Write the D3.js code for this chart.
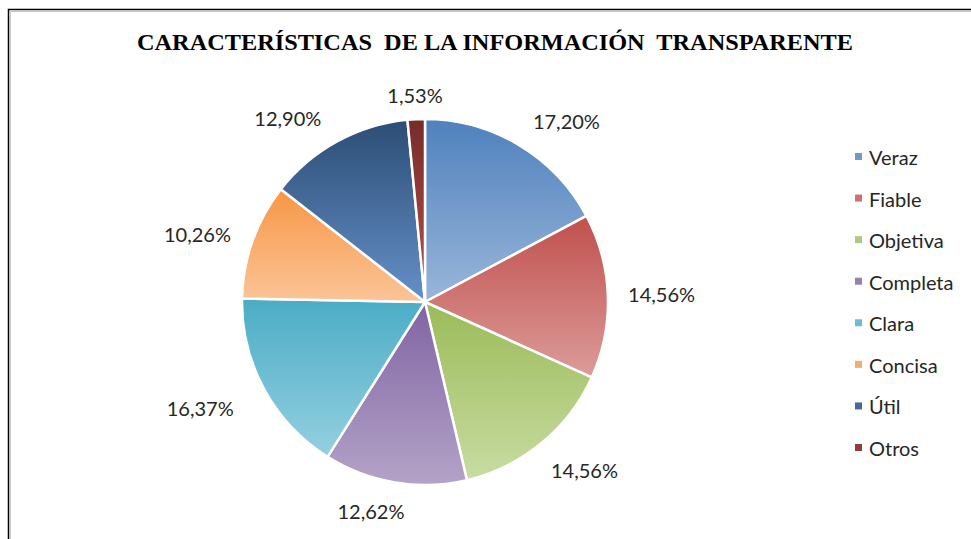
<!DOCTYPE html>
<html>
<head>
<meta charset="utf-8">
<script src="https://cdn.jsdelivr.net/npm/d3@7"></script>
<style>
  html, body { margin: 0; padding: 0; background: #fff; }
  svg { display: block; }
</style>
</head>
<body>
<div id="chart"></div>
<script>
// ---- Data ----
const categories = ["Veraz", "Fiable", "Objetiva", "Completa", "Clara", "Concisa", "Útil", "Otros"];
const values = [17.20, 14.56, 14.56, 12.62, 16.37, 10.26, 12.90, 1.53];
const valueLabels = ["17,20%", "14,56%", "14,56%", "12,62%", "16,37%", "10,26%", "12,90%", "1,53%"];
const title = "CARACTERÍSTICAS  DE LA INFORMACIÓN  TRANSPARENTE";

// ---- Styles ----
const colorsTop = ["#4f81bd", "#c0504d", "#9bbb59", "#8064a2", "#4bacc6", "#f79646", "#2c4d75", "#772c2a"];
const colorsBottom = ["#9ab6da", "#dc9c9a", "#c8dca2", "#b4a3c8", "#94d0e0", "#fbc497", "#6590c8", "#b5514e"];
// label layout tweaks (angle in degrees, extra radial distance in px)
const labelNudgeDeg = [7, 0, -4, 5, 3, -3, -8, 0];
const labelNudgeR = [0, 0, 0, -3, 12, 0, 0, -5];

const W = 971, H = 539;
const cx = 425, cy = 302, R = 183;

const svg = d3.select("#chart").append("svg").attr("width", W).attr("height", H);

// border
svg.append("path").attr("d", `M8.5,${H} L8.5,9.5 L${W},9.5`).attr("fill", "none").attr("stroke", "#000").attr("stroke-width", 1.5);
svg.append("path").attr("d", `M10.5,${H} L10.5,11.5 L${W},11.5`).attr("fill", "none").attr("stroke", "#c8c8c8").attr("stroke-width", 1);

// title
svg.append("text")
  .attr("x", 495).attr("y", 50)
  .attr("text-anchor", "middle")
  .attr("font-family", "'Liberation Serif', 'Times New Roman', serif")
  .attr("font-weight", "bold")
  .attr("font-size", 24)
  .attr("textLength", 716)
  .attr("lengthAdjust", "spacingAndGlyphs")
  .attr("fill", "#000")
  .style("white-space", "pre")
  .text(title);

// gradients
const defs = svg.append("defs");
categories.forEach((c, i) => {
  const g = defs.append("linearGradient").attr("id", "grad" + i)
    .attr("x1", 0).attr("y1", 0).attr("x2", 0).attr("y2", 1);
  g.append("stop").attr("offset", "0%").attr("stop-color", colorsTop[i]);
  g.append("stop").attr("offset", "100%").attr("stop-color", colorsBottom[i]);
});

const pie = d3.pie().sort(null).value(d => d);
const arcs = pie(values);
const arc = d3.arc().innerRadius(0).outerRadius(R);

const gPie = svg.append("g").attr("transform", `translate(${cx},${cy})`);
gPie.selectAll("path.slice").data(arcs).enter().append("path")
  .attr("class", "slice")
  .attr("d", arc)
  .attr("fill", (d, i) => `url(#grad${i})`)
  .attr("stroke", "#fff")
  .attr("stroke-width", 2.5)
  .attr("stroke-linejoin", "round");

// labels
const labelFont = "Lato, 'Open Sans', sans-serif";
const labelSize = 20;
const gap = 20;
const lbl = gPie.selectAll("text.lbl").data(arcs).enter().append("text")
  .attr("class", "lbl")
  .attr("font-family", labelFont)
  .attr("font-size", labelSize)
  .attr("fill", "#262626")
  .attr("text-anchor", "middle")
  .attr("dominant-baseline", "central")
  .text((d, i) => valueLabels[i]);

lbl.each(function(d, i) {
  const bb = this.getBBox();
  const w = bb.width, h = 16;
  const a = (d.startAngle + d.endAngle) / 2 + labelNudgeDeg[i] * Math.PI / 180;
  const s = Math.sin(a), c = Math.cos(a);
  const dist = R + gap + labelNudgeR[i] + Math.abs(s) * w / 2 + Math.abs(c) * h / 2;
  d3.select(this).attr("x", s * dist).attr("y", -c * dist);
});

// legend
const legendY = d3.scalePoint().domain(categories).range([157, 448]);
const gLeg = svg.append("g");
const items = gLeg.selectAll("g").data(categories).enter().append("g")
  .attr("transform", d => `translate(855,${legendY(d)})`);
items.append("rect").attr("x", 0).attr("y", -4).attr("width", 7).attr("height", 7)
  .attr("fill", (d, i) => d3.interpolateRgb(colorsTop[i], colorsBottom[i])(0.45));
items.append("text").attr("x", 14).attr("y", 0)
  .attr("dominant-baseline", "central")
  .attr("font-family", labelFont)
  .attr("font-size", 20)
  .attr("fill", "#262626")
  .text(d => d);
</script>
</body>
</html>
